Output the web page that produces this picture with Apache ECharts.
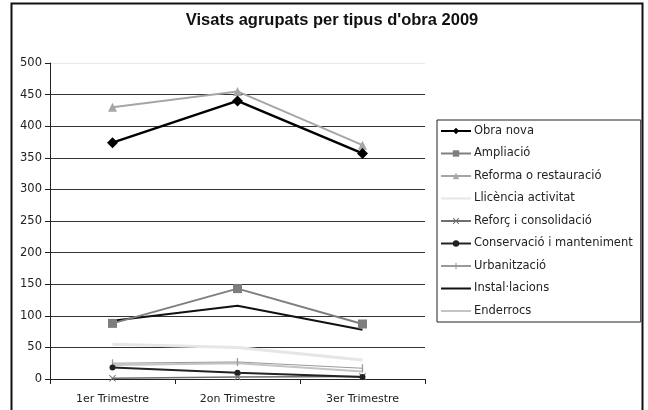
<!DOCTYPE html>
<html>
<head>
<meta charset="utf-8">
<script src="https://cdn.jsdelivr.net/npm/echarts@6/dist/echarts.min.js"></script>
<style>
  html, body { margin: 0; padding: 0; background: #fff; }
  #chart { width: 648px; height: 410px; }
</style>
</head>
<body>
<div id="chart"></div>
<script>
// trimestres
const categories = ['1er Trimestre', '2on Trimestre', '3er Trimestre']
const obraNova = [374, 440, 357]
const ampliacio = [88, 143, 87]
const reforma = [430, 455, 370]
const llicencia = [55, 50, 30]
const reforc = [1, 3, 4]
const conservacio = [18, 10, 3]
const urbanitzacio = [25, 27, 17]
const installacions = [92, 116, 78]
const enderrocs = [22, 25, 12]
const yTicks = [0, 50, 100, 150, 200, 250, 300, 350, 400, 450, 500]

const chart = echarts.init(document.getElementById('chart'))

// helper per no repetir l'estil de cada línia
function serie(name, data, color, width, symbol, size) {
  return {
    name: name,
    type: 'line',
    data: data,
    symbol: symbol || 'none',
    symbolSize: size || 6,
    showSymbol: !!symbol,
    lineStyle: { color: color, width: width },
    itemStyle: { color: color, borderWidth: 0 },
    emphasis: { disabled: true },
    z: 3,
  }
}

const xMark = 'path://M0,1L1,0L5,4L9,0L10,1L6,5L10,9L9,10L5,6L1,10L0,9L4,5Z'
// barreta vertical dins d'una caixa quadrada (els triangles minúsculs fixen els límits)
const tickMark = 'path://M0,0L0.01,0L0,0.01Z M4.2,0L5.8,0L5.8,10L4.2,10Z M10,10L9.99,10L10,9.99Z'
const noIcon = { opacity: 0 }

const option = {
  animation: false,
  textStyle: { fontFamily: 'DejaVu Sans, sans-serif' },
  title: {
    text: "Visats agrupats per tipus d'obra 2009",
    left: 327,
    textAlign: 'center',
    top: 7,
    textStyle: { fontSize: 16.5, fontWeight: 'bold', color: '#111', fontFamily: 'Liberation Sans, Arial, sans-serif' },
  },
  graphic: [
    {
      type: 'rect',
      shape: { x: 11.5, y: 3.5, width: 631, height: 420 },
      style: { fill: 'none', stroke: '#111', lineWidth: 2 },
      silent: true,
    },
  ],
  legend: {
    orient: 'vertical',
    left: 437,
    top: 120,
    padding: [5, 8, 5, 3],
    itemWidth: 30,
    itemHeight: 8,
    itemGap: 10.5,
    borderColor: '#222',
    borderWidth: 1,
    textStyle: { fontSize: 11.5, color: '#222', padding: [0, 0, 0, -2] },
    data: [
      'Obra nova',
      'Ampliació',
      'Reforma o restauració',
      { name: 'Llicència activitat', itemStyle: noIcon },
      'Reforç i consolidació',
      'Conservació i manteniment',
      'Urbanització',
      { name: 'Instal·lacions', itemStyle: noIcon },
      { name: 'Enderrocs', itemStyle: noIcon },
    ],
  },
  grid: { left: 50, right: 223, top: 63, bottom: 31 },
  xAxis: {
    type: 'category',
    data: categories,
    boundaryGap: true,
    axisLine: { lineStyle: { color: '#222', width: 1 } },
    axisTick: { show: true, length: 5, lineStyle: { color: '#222' } },
    axisLabel: { fontSize: 11, color: '#222', margin: 15 },
  },
  yAxis: {
    type: 'value',
    min: 0,
    max: 500,
    interval: 50,
    axisLine: { show: true, lineStyle: { color: '#222' } },
    axisTick: { show: true, length: 5, lineStyle: { color: '#222' } },
    axisLabel: {
      fontSize: 11.5,
      color: '#222',
      margin: 8,
      formatter: (v) => (yTicks.indexOf(v) >= 0 ? String(v) : ''),
    },
    splitLine: {
      show: true,
      lineStyle: {
        color: ['#333', '#333', '#333', '#333', '#333', '#333', '#333', '#333', '#333', '#333', '#e8e8e8'],
        width: 1,
      },
    },
  },
  series: [
    serie('Llicència activitat', llicencia, '#e6e6e6', 3),
    serie('Enderrocs', enderrocs, '#c4c4c4', 2),
    serie('Urbanització', urbanitzacio, '#9a9a9a', 1, tickMark, 8),
    serie('Reforç i consolidació', reforc, '#6e6e6e', 1.5, xMark, 7),
    serie('Conservació i manteniment', conservacio, '#222', 2, 'circle', 6),
    serie('Instal·lacions', installacions, '#111', 2),
    serie('Ampliació', ampliacio, '#7e7e7e', 2, 'rect', 9),
    serie('Reforma o restauració', reforma, '#a6a6a6', 2, 'triangle', 9),
    serie('Obra nova', obraNova, '#000', 2.5, 'diamond', 11),
  ],
}

chart.setOption(option)
</script>
</body>
</html>
